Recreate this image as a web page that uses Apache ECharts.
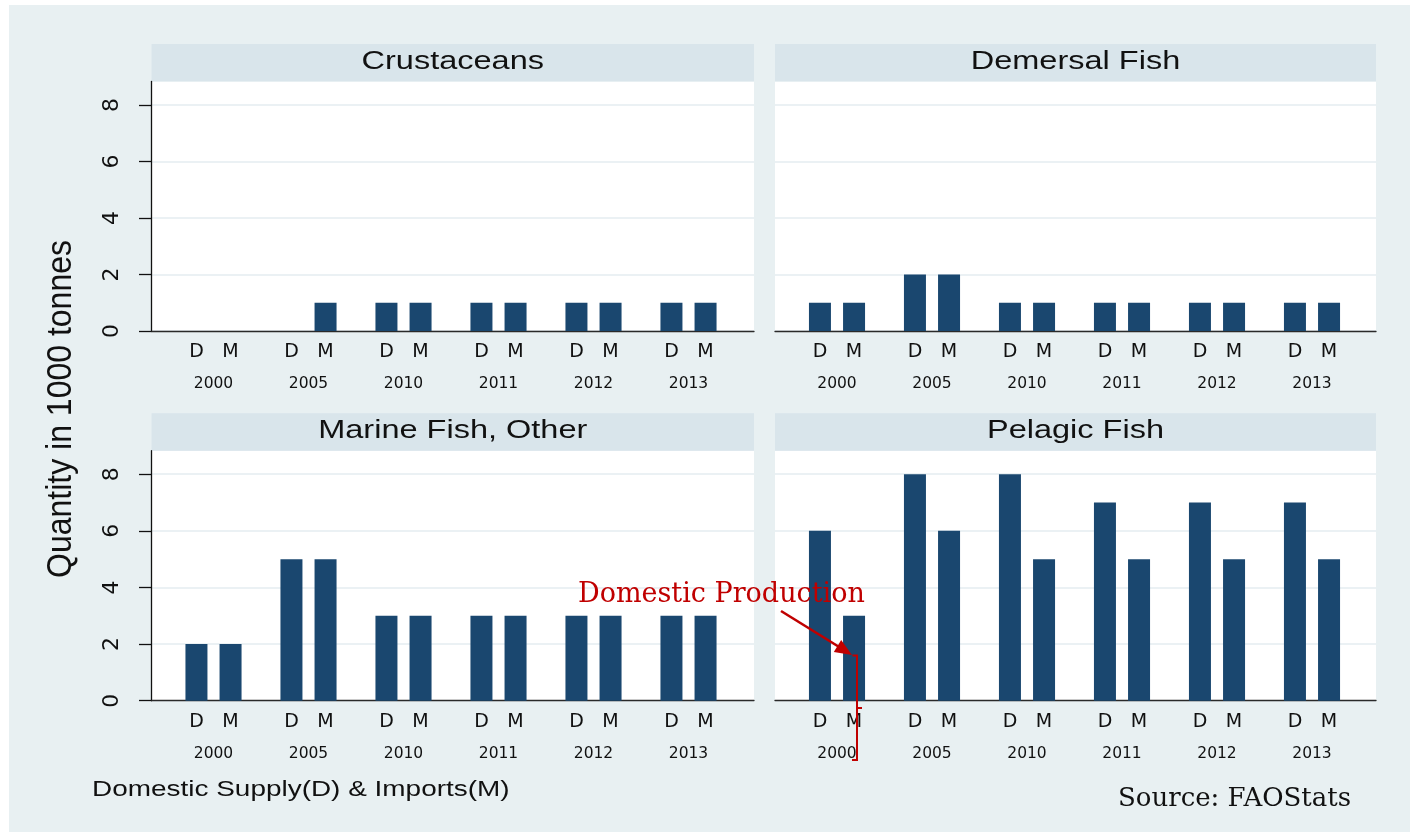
<!DOCTYPE html>
<html><head><meta charset="utf-8">
<script src="https://cdn.jsdelivr.net/npm/echarts@6/dist/echarts.min.js"></script>
<style>html,body{margin:0;padding:0;background:#fff}#c{width:1410px;height:832px}</style>
</head><body><div id="c"></div>
<script>
// ---- data ----
const years = ['2000', '2005', '2010', '2011', '2012', '2013'];
const panelTitles = ['Crustaceans', 'Demersal Fish', 'Marine Fish, Other', 'Pelagic Fish'];
const crustaceansD = [0, 0, 1, 1, 1, 1];
const crustaceansM = [0, 1, 1, 1, 1, 1];
const demersalD = [1, 2, 1, 1, 1, 1];
const demersalM = [1, 2, 1, 1, 1, 1];
const marineOtherD = [2, 5, 3, 3, 3, 3];
const marineOtherM = [2, 5, 3, 3, 3, 3];
const pelagicD = [6, 8, 8, 7, 7, 7];
const pelagicM = [3, 6, 5, 5, 5, 5];
const yTicks = [0, 2, 4, 6, 8];
const yMax = 8.83;

const panelD = [crustaceansD, demersalD, marineOtherD, pelagicD];
const panelM = [crustaceansM, demersalM, marineOtherM, pelagicM];

// ---- layout ----
const BAR = '#1a476f';
const plots = [
  { l: 151.5, t: 81.5, w: 602.5, h: 249.5, yAxisShown: true },
  { l: 775, t: 81.5, w: 601, h: 249.5, yAxisShown: false },
  { l: 151.5, t: 450.7, w: 602.5, h: 250, yAxisShown: true },
  { l: 775, t: 450.7, w: 601, h: 250, yAxisShown: false }
];
const STRIP_H = 37.5;
const BAR_INSET = 14.5, BAR_SPAN = 570;

const grid = [], xAxis = [], yAxis = [], series = [], graphic = [];

graphic.push({ type: 'rect', shape: { x: 0, y: 0, width: 9, height: 832 }, style: { fill: '#fff' }, silent: true });
graphic.push({ type: 'rect', shape: { x: 0, y: 0, width: 1410, height: 5 }, style: { fill: '#fff' }, silent: true });

plots.forEach((p, i) => {
  grid.push({ left: p.l, top: p.t, width: p.w, height: p.h, show: true, backgroundColor: '#ffffff', borderWidth: 0, containLabel: false });
  grid.push({ left: p.l + BAR_INSET, top: p.t, width: BAR_SPAN, height: p.h, show: false, containLabel: false });
  const gBg = 2 * i, gBar = 2 * i + 1;
  xAxis.push({
    gridIndex: gBg, type: 'value', min: 0, max: 1, position: 'bottom',
    axisLine: { show: true, onZero: false, lineStyle: { color: '#2a2a2a', width: 1.3 } },
    axisTick: { show: false }, axisLabel: { show: false }, splitLine: { show: false }
  });
  yAxis.push({
    gridIndex: gBg, type: 'value', min: 0, max: yMax, interval: 2, position: 'left',
    axisLine: { show: p.yAxisShown, onZero: false, lineStyle: { color: '#111', width: 1.3 } },
    axisTick: { show: p.yAxisShown, customValues: yTicks, length: 12.5, lineStyle: { color: '#111', width: 1.3 } },
    axisLabel: {
      show: p.yAxisShown, customValues: yTicks, rotate: 90, margin: 28,
      fontSize: 22, fontFamily: 'DejaVu Sans', color: '#111'
    },
    splitLine: { show: true, lineStyle: { color: '#e5edf0', width: 1.5 } }
  });
  xAxis.push({
    gridIndex: gBar, type: 'category', data: years, position: 'bottom',
    axisLine: { show: false }, axisTick: { show: false }, splitLine: { show: false },
    axisLabel: {
      interval: 0, margin: 5,
      formatter: v => '{dm|D}{dm|M}\n{yr|' + v + '}',
      rich: {
        dm: { fontSize: 19, fontFamily: 'DejaVu Sans', width: 34, align: 'center', lineHeight: 32, color: '#111' },
        yr: { fontSize: 15.5, fontFamily: 'DejaVu Sans', lineHeight: 32, color: '#111' }
      }
    }
  });
  yAxis.push({ gridIndex: gBar, type: 'value', min: 0, max: yMax, show: false });
  [panelD[i], panelM[i]].forEach((vals, k) => {
    series.push({
      type: 'bar', name: k === 0 ? 'D' : 'M', xAxisIndex: gBar, yAxisIndex: gBar,
      data: vals, barWidth: 22, barGap: '55%',
      itemStyle: { color: BAR },
      silent: true, animation: false
    });
  });
  graphic.push({ type: 'rect', shape: { x: p.l, y: p.t - STRIP_H, width: p.w, height: STRIP_H }, style: { fill: '#d9e5eb' }, silent: true });
  graphic.push({
    type: 'text', x: p.l + p.w / 2, y: p.t - STRIP_H / 2 - 1, scaleX: 1.3,
    style: { text: panelTitles[i], fontSize: 25, fontFamily: 'Liberation Sans', fill: '#111', align: 'center', verticalAlign: 'middle' },
    silent: true
  });
});

graphic.push({
  type: 'text', x: 61, y: 409, rotation: Math.PI / 2, scaleY: 1.12,
  style: { text: 'Quantity in 1000 tonnes', fontSize: 32, fontFamily: 'Liberation Sans', fill: '#111', align: 'center', verticalAlign: 'middle' },
  silent: true
});
graphic.push({
  type: 'text', x: 92, y: 790, scaleX: 1.27,
  style: { text: 'Domestic Supply(D) & Imports(M)', fontSize: 22, fontFamily: 'Liberation Sans', fill: '#111', align: 'left', verticalAlign: 'middle' },
  silent: true
});
graphic.push({
  type: 'text', x: 1118, y: 799,
  style: { text: 'Source: FAOStats', fontSize: 26, fontFamily: 'DejaVu Serif', fill: '#111', align: 'left', verticalAlign: 'middle' },
  silent: true
});
const RED = '#c00000';
graphic.push({
  type: 'text', x: 578, y: 595, z: 100,
  style: { text: 'Domestic Production', fontSize: 27, fontFamily: 'DejaVu Serif', fill: RED, align: 'left', verticalAlign: 'middle' },
  silent: true
});
graphic.push({ type: 'line', z: 100, shape: { x1: 781, y1: 611, x2: 840, y2: 647.5 }, style: { stroke: RED, lineWidth: 2.6 }, silent: true });
graphic.push({ type: 'polygon', z: 100, shape: { points: [[852, 655], [833.8, 652], [841.2, 640]] }, style: { fill: RED }, silent: true });
graphic.push({ type: 'polyline', z: 100, shape: { points: [[852.5, 655.5], [857, 655.5], [857, 760], [852, 760]] }, style: { stroke: RED, lineWidth: 2, fill: null }, silent: true });
graphic.push({ type: 'line', z: 100, shape: { x1: 857, y1: 708, x2: 862, y2: 708 }, style: { stroke: RED, lineWidth: 2 }, silent: true });

const chart = echarts.init(document.getElementById('c'), null, { renderer: 'canvas' });
chart.setOption({
  backgroundColor: '#e8f0f2',
  animation: false,
  grid, xAxis, yAxis, series,
  graphic: { elements: graphic }
});
</script>
</body></html>
